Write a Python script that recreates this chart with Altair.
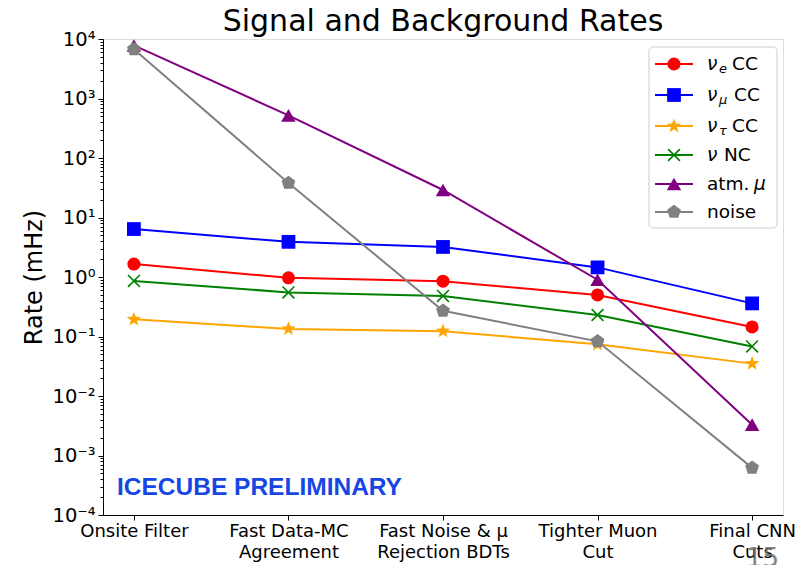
import math
import altair as alt
import pandas as pd

# ---------------- data ----------------
stages = ["Onsite Filter", "Fast Data-MC Agreement", "Fast Noise & μ Rejection BDTs",
          "Tighter Muon Cut", "Final CNN Cuts"]
stage_lines = [["Onsite Filter"], ["Fast Data-MC", "Agreement"], ["Fast Noise & μ", "Rejection BDTs"],
               ["Tighter Muon", "Cut"], ["Final CNN", "Cuts"]]

series_names = ["nu_e CC", "nu_mu CC", "nu_tau CC", "nu NC", "atm. mu", "noise"]
nu_e_cc = [1.65, 0.97, 0.85, 0.50, 0.145]
nu_mu_cc = [6.4, 3.9, 3.2, 1.45, 0.36]
nu_tau_cc = [0.195, 0.134, 0.123, 0.074, 0.035]
nu_nc = [0.86, 0.55, 0.48, 0.23, 0.068]
atm_mu = [7800.0, 520.0, 29.0, 0.90, 0.0033]
noise = [6700.0, 38.0, 0.27, 0.083, 0.00062]
series_values = [nu_e_cc, nu_mu_cc, nu_tau_cc, nu_nc, atm_mu, noise]

y_tick_labels = ["10⁻⁴", "10⁻³", "10⁻²", "10⁻¹", "10⁰", "10¹", "10²", "10³", "10⁴"]
title_text = "Signal and Background Rates"

# ---------------- styles ----------------
FONT = "DejaVu Sans"
colors = ["#ff0000", "#0000ff", "#ffa500", "#008000", "#800080", "#808080"]


def star_path(n=5, r_out=1.0, r_in=0.42):
    pts = []
    for i in range(2 * n):
        r = r_out if i % 2 == 0 else r_in
        a = -math.pi / 2 + i * math.pi / n
        pts.append((r * math.cos(a), r * math.sin(a)))
    return "M" + "L".join(f"{x:.3f},{y:.3f}" for x, y in pts) + "Z"


def poly_path(n=5, r=1.0):
    pts = []
    for i in range(n):
        a = -math.pi / 2 + i * 2 * math.pi / n
        pts.append((r * math.cos(a), r * math.sin(a)))
    return "M" + "L".join(f"{x:.3f},{y:.3f}" for x, y in pts) + "Z"


X_PATH = "M-1,-1L1,1M-1,1L1,-1"
shapes = ["circle", "square", star_path(), X_PATH, "triangle-up", poly_path()]
sizes = [170, 190, 230, 140, 210, 210]
filled = [True, True, True, False, True, True]

W, H = 680, 476

x_scale = alt.Scale(domain=[-0.2, 4.2], nice=False, zero=False)
y_scale = alt.Scale(type="log", domain=[1e-4, 1e4], nice=False)

decades = [10.0 ** e for e in range(-4, 5)]
minors = [m * 10.0 ** e for e in range(-4, 4) for m in range(2, 10)]

x_label_expr = "[" + ",".join("[" + ",".join("'" + s + "'" for s in lines) + "]" for lines in stage_lines) + "][round(datum.value)]"
is_decade = "abs(log(datum.value)/LN10 - round(log(datum.value)/LN10)) < 1e-6"
y_label_expr = (is_decade + " ? ["
                + ",".join("'" + s + "'" for s in y_tick_labels)
                + "][round(log(datum.value)/LN10)+4] : ''")

x_axis = alt.Axis(values=list(range(len(stages))), labelExpr=x_label_expr, title=None,
                  grid=False, labelFont=FONT, labelFontSize=18, labelColor="black",
                  tickColor="black", domainColor="black", tickSize=5, labelPadding=2,
                  labelLineHeight=21)
y_axis = alt.Axis(values=decades + minors, labelExpr=y_label_expr, title="Rate (mHz)",
                  grid=False, labelFont=FONT, labelFontSize=19.5, labelColor="black",
                  tickColor="black", domainColor="black",
                  tickSize={"condition": {"test": is_decade, "value": 5}, "value": 3},
                  titleFont=FONT, titleFontSize=24, titleFontWeight="normal", titleColor="black",
                  titlePadding=6, labelPadding=3)

rows = []
for name, vals in zip(series_names, series_values):
    for i, v in enumerate(vals):
        rows.append({"series": name, "idx": i, "rate": v})
df = pd.DataFrame(rows)

layers = []
for k, name in enumerate(series_names):
    sub = df[df["series"] == name]
    base = alt.Chart(sub)
    line = base.mark_line(color=colors[k], strokeWidth=2).encode(
        x=alt.X("idx:Q", scale=x_scale, axis=x_axis),
        y=alt.Y("rate:Q", scale=y_scale, axis=y_axis),
    )
    pt = base.mark_point(shape=shapes[k], size=sizes[k], filled=filled[k], color=colors[k],
                         opacity=1, strokeWidth=1.6 if not filled[k] else 0.5).encode(
        x=alt.X("idx:Q", scale=x_scale),
        y=alt.Y("rate:Q", scale=y_scale),
    )
    layers += [line, pt]

# ---------------- legend (drawn by hand to allow subscripts) ----------------
leg_y = [64, 95, 126, 155, 184, 212]
leg_box = alt.Chart(pd.DataFrame({"a": [0]})).mark_rect(
    fill="white", fillOpacity=0.8, stroke="#cccccc", strokeWidth=1, cornerRadius=4
).encode(x=alt.value(649 - 103), x2=alt.value(777 - 103), y=alt.value(47 - 39), y2=alt.value(228 - 39))
layers.append(leg_box)

for k in range(len(series_names)):
    yy = leg_y[k] - 39
    seg = alt.Chart(pd.DataFrame({"a": [0]})).mark_rule(color=colors[k], strokeWidth=2).encode(
        x=alt.value(655 - 103), x2=alt.value(693 - 103), y=alt.value(yy))
    mk = alt.Chart(pd.DataFrame({"a": [0]})).mark_point(
        shape=shapes[k], size=sizes[k], filled=filled[k], color=colors[k], opacity=1,
        strokeWidth=1.6 if not filled[k] else 0.5).encode(x=alt.value(674 - 103), y=alt.value(yy))
    layers += [seg, mk]

leg_main_italic = pd.DataFrame({
    "t": ["ν", "ν", "ν", "ν", "μ"],
    "x": [707, 707, 707, 707, 754],
    "y": [leg_y[0], leg_y[1], leg_y[2], leg_y[3], leg_y[4]],
})
leg_sub_italic = pd.DataFrame({
    "t": ["e", "μ", "τ"],
    "x": [719, 719, 719],
    "y": [leg_y[0], leg_y[1], leg_y[2]],
})
leg_normal = pd.DataFrame({
    "t": ["CC", "CC", "CC", "NC", "atm.", "noise"],
    "x": [732, 734, 732, 724, 707, 707],
    "y": leg_y,
})
for d in (leg_main_italic, leg_sub_italic, leg_normal):
    d["x"] = d["x"] - 103
    d["y"] = d["y"] - 39

layers.append(alt.Chart(leg_main_italic).mark_text(
    font=FONT, fontSize=18.5, fontStyle="italic", align="left", baseline="middle", color="black"
).encode(x=alt.X("x:Q", scale=None), y=alt.Y("y:Q", scale=None), text="t:N"))
layers.append(alt.Chart(leg_sub_italic).mark_text(
    font=FONT, fontSize=13, fontStyle="italic", align="left", baseline="middle", dy=5, color="black"
).encode(x=alt.X("x:Q", scale=None), y=alt.Y("y:Q", scale=None), text="t:N"))
layers.append(alt.Chart(leg_normal).mark_text(
    font=FONT, fontSize=18.5, align="left", baseline="middle", color="black"
).encode(x=alt.X("x:Q", scale=None), y=alt.Y("y:Q", scale=None), text="t:N"))

# ---------------- title & annotations ----------------
title = alt.Chart(pd.DataFrame({"t": [title_text]})).mark_text(
    font=FONT, fontSize=30, color="black", align="center", baseline="alphabetic"
).encode(x=alt.value(W / 2), y=alt.value(31 - 39), text="t:N")
layers.append(title)

prelim = alt.Chart(pd.DataFrame({"t": ["ICECUBE PRELIMINARY"]})).mark_text(
    font="Liberation Sans", fontSize=24.5, fontWeight="bold", color="#1646e6",
    align="left", baseline="middle"
).encode(x=alt.value(117 - 103), y=alt.value(488 - 39), text="t:N")
layers.append(prelim)

page_no = alt.Chart(pd.DataFrame({"t": ["15"]})).mark_text(
    font="DejaVu Sans", fontSize=26, color="#6e6e6e", opacity=0.85,
    align="left", baseline="alphabetic"
).encode(x=alt.value(746 - 103), y=alt.value(567 - 39), text="t:N")
layers.append(page_no)

chart = alt.layer(*layers).properties(
    width=W, height=H,
    autosize=alt.AutoSizeParams(type="none"),
    padding={"left": 103, "top": 39, "right": 15, "bottom": 50},
).configure_view(stroke="black", strokeWidth=1.2).configure(background="white")

chart.save("out.html", embed_options={"renderer": "svg", "actions": False})
